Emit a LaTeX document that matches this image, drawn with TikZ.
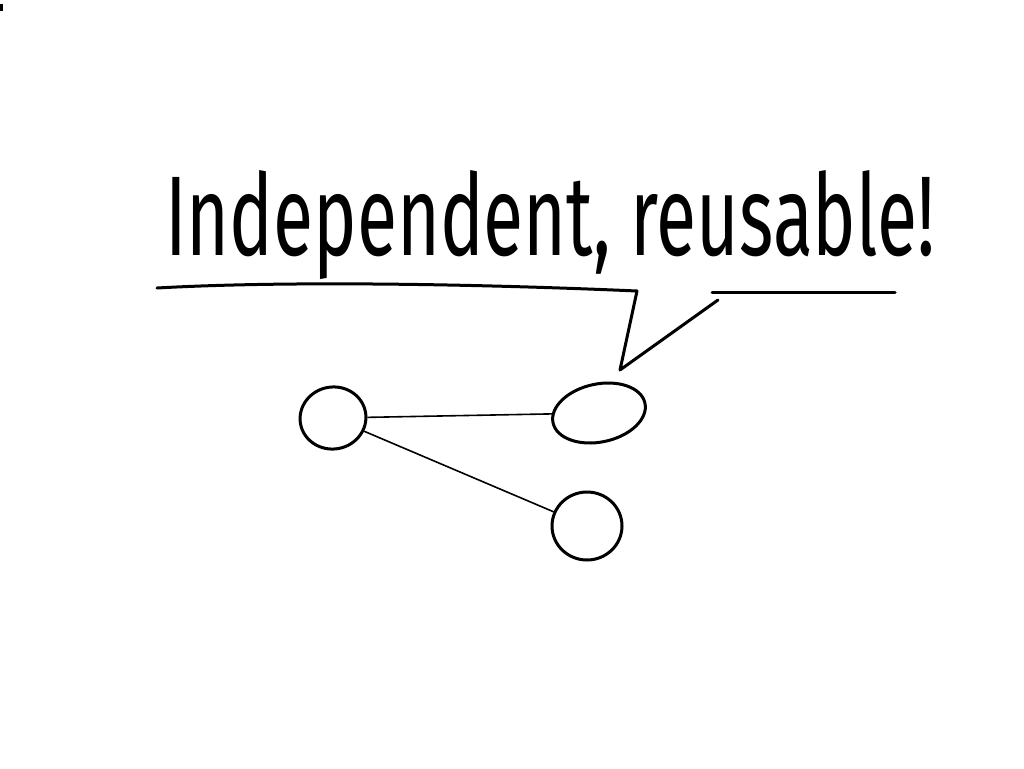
\documentclass[tikz,border=0pt]{standalone}
\usepackage{fontspec}
\usetikzlibrary{shapes.geometric}
\newfontfamily\handfont{Fira Sans}
\tikzset{
  blob/.style={draw, ellipse, line width=3pt, inner sep=0pt},
  edge/.style={draw, line width=1.6pt},
  stroke/.style={draw, line width=3pt, line cap=round, line join=round}
}
\begin{document}
\begin{tikzpicture}[x=1pt,y=-1pt]
\useasboundingbox[fill=white] (0,0) rectangle (1024,768);
\fill (0,4) rectangle (3,11);
% title
\node[anchor=base west, inner sep=0pt] (title) at (165,255)
  {\resizebox{770pt}{85pt}{\handfont Independent, reusable!}};
% speech bubble line
\coordinate (u0) at (157,288);
\coordinate (u1) at (637,291);
\coordinate (tip) at (620,370);
\coordinate (u2) at (718,300);
\coordinate (v0) at (712,292);
\coordinate (v1) at (895,292);
\draw[stroke] (u0) .. controls (300,280) and (500,285) .. (u1) -- (tip) -- (u2);
\draw[stroke] (v0) -- (v1);
% graph
\node[blob, minimum width=66pt, minimum height=62pt, rotate=10] (a) at (333,418) {};
\node[blob, minimum width=94pt, minimum height=58pt, rotate=12] (b) at (599,413) {};
\node[blob, minimum width=70pt, minimum height=68pt] (c) at (587,526) {};
\draw[edge] (a) -- (b);
\draw[edge] (a) -- (c);
\end{tikzpicture}
\end{document}
